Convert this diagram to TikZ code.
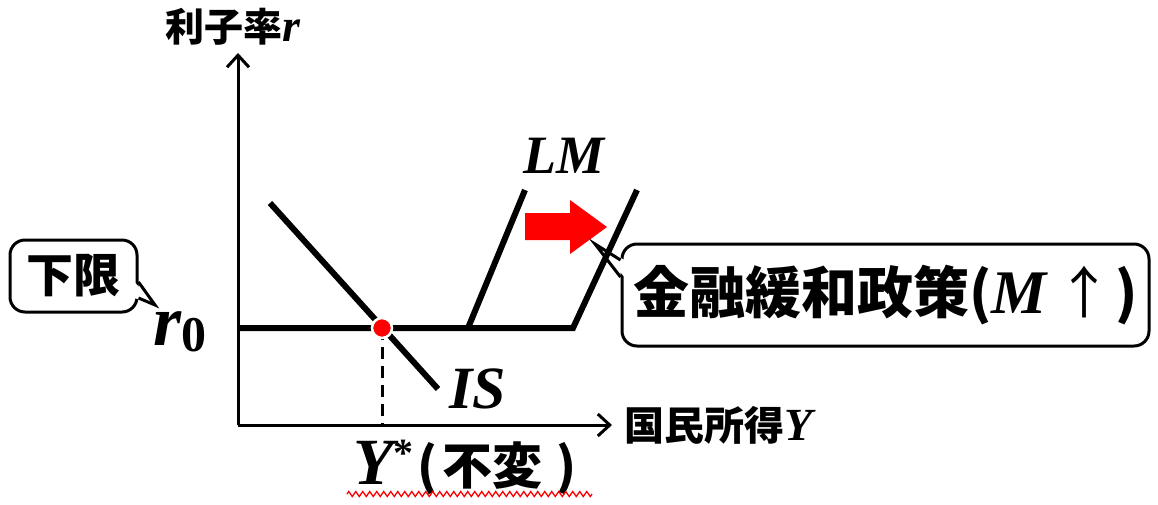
\documentclass[tikz,border=0pt]{standalone}
\usepackage{fontspec}
\setmainfont{Liberation Serif}
\newfontfamily\cjk{Noto Sans CJK JP}
\usetikzlibrary{arrows.meta,decorations.pathmorphing}
\newcommand\fs[1]{\fontsize{#1}{#1}\selectfont}
\newcommand\bi[1]{{\bfseries\itshape #1}}
\begin{document}
\begin{tikzpicture}[x=1pt,y=-1pt,
  axis/.style={line width=3pt,-{Straight Barb[length=12pt,width=22pt]}},
  curve/.style={line width=6pt},
  callbox/.style={draw,line width=3pt,rounded corners=15pt,fill=white,inner sep=0pt},
  ptr/.style={line width=3pt,line join=miter},
  lbl/.style={inner sep=0pt}]
\useasboundingbox (0,0) rectangle (1158,504);

% callouts
\node[callbox,minimum width=127pt,minimum height=72pt] (lim) at (73.5,276) {\cjk\bfseries\fs{47}下限};
\coordinate (limtip) at (155,305);
\fill[white] ([xshift=-4pt,yshift=-6pt]lim.east) -- (limtip) -- ([xshift=-4pt,yshift=-22pt]lim.east) -- cycle;
\draw[ptr] ([yshift=-6pt]lim.east) -- (limtip) -- ([yshift=-22pt]lim.east);

\node[callbox,minimum width=527pt,minimum height=102pt] (pol) at (885.5,295)
  {\fs{56}{\cjk\bfseries 金融緩和政策(}\bi{\fs{62}M}\,{\cjk ↑}\kern3pt{\cjk\bfseries )}};
\coordinate (poltip) at (595,244);
\fill[white] ([xshift=4pt,yshift=35pt]pol.west) -- (poltip) -- ([xshift=4pt,yshift=18pt]pol.west) -- cycle;
\draw[ptr] ([yshift=35pt]pol.west) -- (poltip) -- ([yshift=18pt]pol.west);

% axes
\coordinate (O) at (238,425);
\coordinate (ytip) at (238,53);
\coordinate (xtip) at (612,425);
\draw[axis] (O) -- (ytip);
\draw[axis] (O) -- (xtip);
\node[lbl,anchor=base west] (rlab) at (165,41) {\fs{39}{\cjk\bfseries 利子率}\bi{\fs{46}r}};
\node[lbl,anchor=base west] (ylab) at (624,440) {\fs{40}{\cjk\bfseries 国民所得}\bi{\fs{46}Y}};

% curves
\coordinate (r0L) at (238,328);
\coordinate (k1) at (468,328);
\coordinate (k2) at (573,328);
\coordinate (lm1) at (525,190);
\coordinate (lm2) at (637,190);
\coordinate (is1) at (270,203);
\coordinate (is2) at (438,389);
\coordinate (E) at (382,328);
\coordinate (Eb) at (382,425);
\draw[line width=3pt,dash pattern=on 12pt off 7pt] (E) -- (Eb);
\draw[curve,line join=miter] (r0L) -- (k2) -- (lm2);
\draw[curve] (k1) -- (lm1);
\draw[curve] (is1) -- (is2);
\node[circle,fill=red,draw=white,line width=2.5pt,inner sep=0pt,minimum size=20pt] (Edot) at (E) {};

% red shift arrow
\fill[red] (525,213) -- (570,213) -- (570,200) -- (607,227) -- (570,254) -- (570,240) -- (525,240) -- cycle;

% labels
\node[lbl,anchor=base west] (islab) at (449,408) {\fs{60}\bi{IS}};
\node[lbl,anchor=base west] (lmlab) at (523,173) {\fs{54}\bi{LM}};
\node[lbl,anchor=base west] (r0lab) at (153,345) {\fs{72}\bi{r}\raisebox{-6pt}{\fs{50}\bfseries 0}};
\node[lbl,anchor=base west] (ystar) at (353,484)
  {\fs{66}\bi{Y}\raisebox{18pt}{\fs{40}\bfseries *}\kern4pt{\cjk\bfseries\fs{50}(\kern5pt 不変\kern14pt)}};
\coordinate (w1) at (347,494);
\coordinate (w2) at (592,494);
\draw[red,line width=1.3pt,decorate,decoration={zigzag,segment length=7pt,amplitude=2.5pt}] (w1) -- (w2);
\end{tikzpicture}
\end{document}
